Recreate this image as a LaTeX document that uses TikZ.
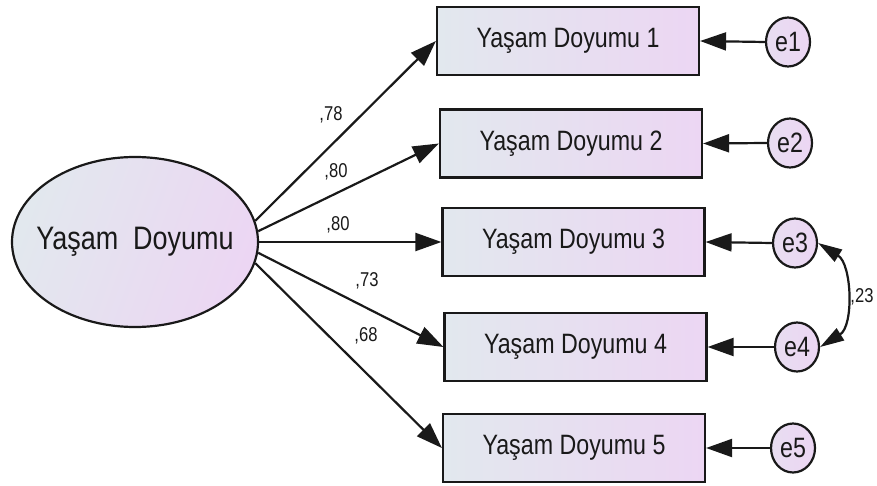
\documentclass[tikz,border=0pt]{standalone}
\usepackage{fontspec}
\setmainfont{Liberation Sans}[FakeStretch=0.83]
\usetikzlibrary{arrows.meta,shapes.geometric}

\definecolor{fillL}{RGB}{226,232,238}
\definecolor{fillR}{RGB}{236,214,243}
\definecolor{ink}{RGB}{25,25,25}

\tikzset{
  tip/.tip={Triangle[length=26pt,width=18pt]},
  covtip/.tip={Triangle[length=24pt,width=14pt]},
  obsbox/.style={draw=ink, line width=2.2pt, rectangle, minimum width=262pt,
    minimum height=68pt, inner sep=0pt, left color=fillL, right color=fillR,
    text=ink, font=\fontsize{28}{31}\selectfont},
  latent/.style={draw=ink, line width=2.2pt, ellipse, minimum width=246pt,
    minimum height=170pt, inner sep=0pt, left color=fillL, right color=fillR,
    shading angle=70},
  latenttext/.style={text=ink, inner sep=0pt, font=\fontsize{32.5}{36}\selectfont},
  errnode/.style={draw=ink, line width=2.2pt, ellipse, minimum width=44pt,
    minimum height=49pt, inner sep=0pt, left color=fillL!40!fillR, right color=fillR,
    text=ink, font=\fontsize{28}{31}\selectfont},
  path/.style={draw=ink, line width=2.2pt, -tip},
  coef/.style={text=ink, inner sep=0pt, font=\fontsize{20}{24}\selectfont},
}

\begin{document}
\begin{tikzpicture}[x=1pt, y=-1pt]
  \useasboundingbox (0,0) rectangle (877,486);

  % latent factor
  \node[latent] (F) at (135,242) {};
  \node[latenttext] (Ftext) at (F.center) {Yaşam\ \ Doyumu};

  % observed indicators
  \node[obsbox] (B1) at (568,41)    {Yaşam Doyumu 1};
  \node[obsbox] (B2) at (571,143.5) {Yaşam Doyumu 2};
  \node[obsbox] (B3) at (573.5,242) {Yaşam Doyumu 3};
  \node[obsbox] (B4) at (575.5,347) {Yaşam Doyumu 4};
  \node[obsbox] (B5) at (574,448)   {Yaşam Doyumu 5};

  % error terms
  \node[errnode] (e1) at (788,42)  {e1};
  \node[errnode] (e2) at (790,143) {e2};
  \node[errnode] (e3) at (795,243) {e3};
  \node[errnode] (e4) at (797,347) {e4};
  \node[errnode] (e5) at (793,448) {e5};

  % factor loadings
  \draw[path] (F.10)  -- (B1.west);
  \draw[path] (F.5)   -- (B2.west);
  \draw[path] (F.0)   -- (B3.west);
  \draw[path] (F.-5)  -- (B4.west);
  \draw[path] (F.-10) -- (B5.west);

  \node[coef] (l1) at (331,115) {,78};
  \node[coef] (l2) at (336,172) {,80};
  \node[coef] (l3) at (338,225) {,80};
  \node[coef] (l4) at (367,281) {,73};
  \node[coef] (l5) at (366,336) {,68};

  % error paths
  \draw[path] (e1.west) -- (B1.east);
  \draw[path] (e2.west) -- (B2.east);
  \draw[path] (e3.west) -- (B3.east);
  \draw[path] (e4.west) -- (B4.east);
  \draw[path] (e5.west) -- (B5.east);

  % error covariance (y axis points down: positive angles go downwards)
  \draw[draw=ink, line width=2.2pt, covtip-covtip]
    (e3.east) .. controls +(32:40) and +(-32:40) .. (e4.east);
  \node[coef] (c34) at (862,297) {,23};
\end{tikzpicture}
\end{document}
